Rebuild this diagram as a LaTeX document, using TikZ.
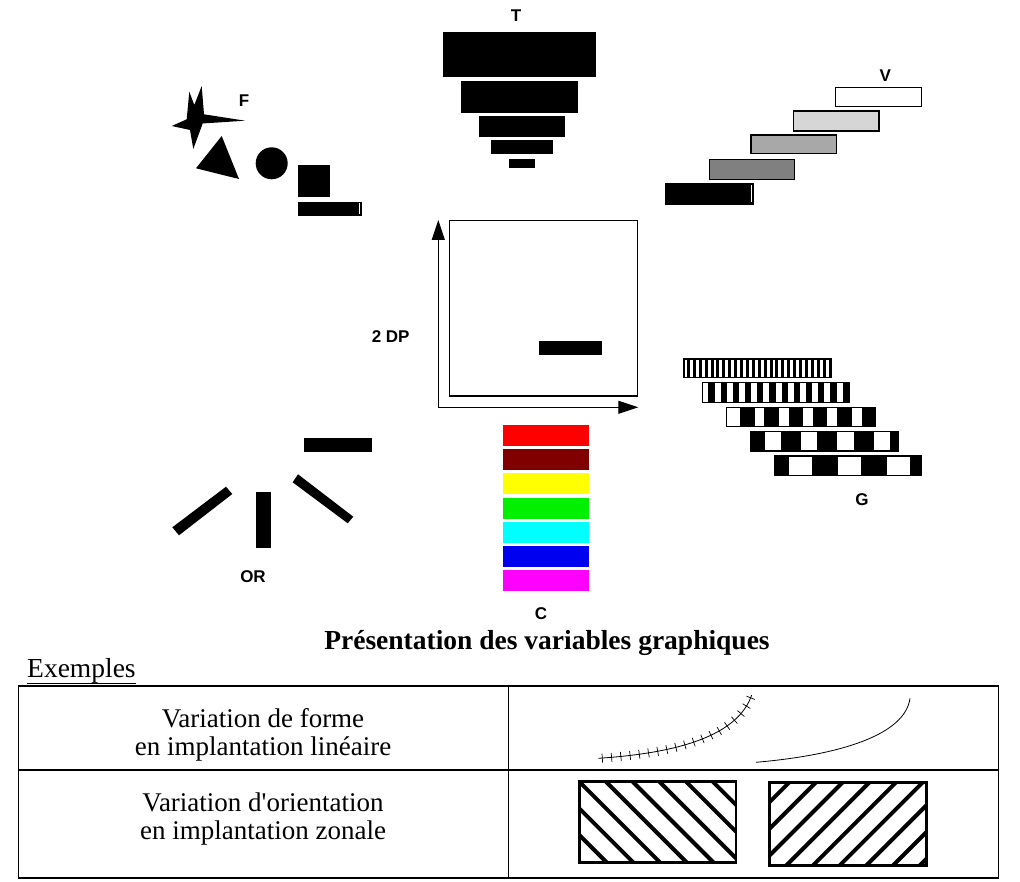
\documentclass[tikz,border=0pt]{standalone}
\usepackage{fontspec}
\setmainfont{Liberation Serif}
\newfontfamily\rawserif{Liberation Serif}
\newfontfamily\labfont{Liberation Sans}
\usetikzlibrary{arrows.meta,decorations.markings}
\definecolor{cred}{HTML}{FF0000}
\definecolor{cmaroon}{HTML}{800000}
\definecolor{cyellow}{HTML}{FFFF00}
\definecolor{cgreen}{HTML}{00F000}
\definecolor{ccyan}{HTML}{00FFFF}
\definecolor{cblue}{HTML}{0000F0}
\definecolor{cmagenta}{HTML}{FF00FF}
\definecolor{gA}{HTML}{808080}
\definecolor{gB}{HTML}{A8A8A8}
\definecolor{gC}{HTML}{D6D6D6}
\begin{document}
\begin{tikzpicture}[x=1pt,y=-1pt,
  lbl/.style={font=\labfont\bfseries\fontsize{17}{17}\selectfont, inner sep=0pt},
  blk/.style={fill=black, draw=none},
  vbar/.style={draw=black, line width=1.2pt},
  gbar/.style={draw=black, line width=1.3pt},
  axis/.style={line width=1.3pt, -{Triangle[length=20pt,width=13pt]}},
  frame/.style={draw=black, line width=1.1pt},
  tab/.style={line width=1.6pt},
  tabtxt/.style={font=\rawserif\fontsize{27}{28}\selectfont, inner sep=0pt, anchor=base},
  hatch/.style={line width=4pt},
  hbox/.style={line width=2.8pt}
]
\useasboundingbox (0,0) rectangle (1020,882);
\fill[white] (0,0) rectangle (1020,882);

% ---------- T ----------
\node[lbl] (T) at (516,16) {T};
\fill[blk] (443.3,32.3) rectangle (595.7,77.3);
\fill[blk] (461,81) rectangle (577.7,113.3);
\fill[blk] (479,116) rectangle (565.3,137.3);
\fill[blk] (491.3,140) rectangle (553.3,154);
\fill[blk] (509,159.3) rectangle (535.3,167.7);

% ---------- F ----------
\node[lbl] (F) at (244,100.7) {F};
\fill[blk] (171.7,126) -- (186.7,119.3) -- (189.3,91.7) -- (194.3,105) -- (201.7,86)
  -- (204,114.3) -- (245,120.7) -- (202.7,123.5) -- (193.3,149) -- (190,130) -- cycle;
\fill[blk] (221.7,136) -- (196,168.3) -- (239,179) -- cycle;
\fill[blk] (271.7,163.3) circle (16);
\fill[blk] (298,165.3) rectangle (330,197.3);
\fill[blk] (298,201.7) rectangle (361.7,215.7);
\draw[white, line width=0.6pt] (359.6,203) -- (359.6,214.5);

% ---------- V ----------
\node[lbl] (V) at (885.3,76) {V};
\filldraw[vbar, fill=black] (666,183.3) rectangle (753.3,204);
\draw[white, line width=0.6pt] (751.5,185) -- (751.5,202.5);
\filldraw[vbar, fill=gA] (709.3,159.3) rectangle (794.3,179.3);
\filldraw[vbar, fill=gB] (751,135) rectangle (836.7,153.3);
\filldraw[vbar, fill=gC] (793.3,111) rectangle (879,131);
\filldraw[vbar, fill=white] (835.3,87.3) rectangle (921.3,106.7);

% ---------- centre ----------
\node[lbl] (DP) at (390.7,336.7) {2 DP};
\draw[frame] (449.3,220.7) rectangle (637.3,396);
\fill[blk] (539.3,341) rectangle (602,355);
\coordinate (O) at (438.3,407.3);
\coordinate (Ytip) at (438.3,220);
\coordinate (Xtip) at (638.3,407.3);
\draw[axis] (O) -- (Ytip);
\draw[axis] (O) -- (Xtip);

% ---------- G ----------
\node[lbl] (G) at (862,500) {G};
\foreach \xa/\xb/\ya/\yb/\st/\p/\w in {
  684/831.7/359/377.3/686.95/5.9/2.95,
  702.3/849/382.7/402.3/708.4/12.2/6.1,
  726.7/875/407.3/426.7/740/24.3/14.5,
  750.7/898.7/431.7/451/744.7/36.3/20,
  775/921.7/456/475.7/762.7/49/26}{
  \begin{scope}
    \clip (\xa,\ya) rectangle (\xb,\yb);
    \fill[white] (\xa,\ya) rectangle (\xb,\yb);
    \foreach \k in {0,...,30}{
      \fill[black] ({\st+\k*\p},\ya) rectangle ({\st+\k*\p+\w},\yb);
    }
  \end{scope}
  \draw[gbar] (\xa,\ya) rectangle (\xb,\yb);
}

% ---------- OR ----------
\node[lbl] (OR) at (253,577) {OR};
\fill[blk] (304,437.7) rectangle (372.3,451.7);
\fill[blk] (256,491.7) rectangle (270.7,548.3);
\fill[blk] (172.3,527.3) -- (179,535.3) -- (232.3,494) -- (226,486.7) -- cycle;
\fill[blk] (292.7,482.3) -- (298,474.3) -- (353.3,516.7) -- (347.7,523.3) -- cycle;

% ---------- C ----------
\node[lbl] (C) at (541,614) {C};
\foreach \c [count=\i from 0] in {cred,cmaroon,cyellow,cgreen,ccyan,cblue,cmagenta}{
  \fill[\c] (503.3,{425+\i*24.2}) rectangle (589.3,{446+\i*24.2});
}

% ---------- title ----------
\node[font=\bfseries\fontsize{27.5}{28}\selectfont, inner sep=0pt, anchor=base] (title) at (547,649) {Présentation des variables graphiques};
\node[font=\fontsize{27.5}{28}\selectfont, inner sep=0pt, anchor=base west] (ex) at (27,677) {Exemples};
\draw[line width=1.2pt] (ex.base west) ++(0,6.5) coordinate (ul1) -- (ex.base east |- ul1);

% ---------- table ----------
\draw[tab] (18.3,685.7) rectangle (998.3,877.7);
\draw[tab] (18.3,770) -- (998.3,770);
\draw[tab] (508.3,685.7) -- (508.3,877.7);

\node[tabtxt] (r1a) at (263,727) {Variation de forme};
\node[tabtxt] (r1b) at (263,755) {en implantation linéaire};
\node[tabtxt] (r2a) at (263,811) {Variation d'orientation};
\node[tabtxt] (r2b) at (263,839) {en implantation zonale};

% ticked curve
\coordinate (c1s) at (598.3,758.3);
\coordinate (c1e) at (751.7,695);
\draw[line width=0.8pt, postaction={decorate},
  decoration={markings, mark=between positions 4pt and 1 step 9.3pt with {\draw[line width=0.7pt] (0,-4.5) -- (0,4.5);}}]
  (c1s) .. controls (680,753) and (738,735) .. (c1e);
% plain curve
\coordinate (c2s) at (756,762.3);
\coordinate (c2e) at (910,698.3);
\draw[line width=0.8pt] (c2s) .. controls (840,755) and (905,735) .. (c2e);

% hatched rectangle A
\begin{scope}
  \clip (579.3,781.7) rectangle (736,862.7);
  \foreach \k in {-4,...,7}{
    \draw[hatch] ({579.3+\k*26.7},781.7) -- ++(90,90);
  }
\end{scope}
\draw[hbox] (579.3,781.7) rectangle (736,862.7);

% hatched rectangle B
\begin{scope}
  \clip (769.3,782.3) rectangle (926.7,865.7);
  \foreach \k in {-1,...,10}{
    \draw[hatch] ({789.3+\k*26.7},782.3) -- ++(-90,90);
  }
\end{scope}
\draw[hbox] (769.3,782.3) rectangle (926.7,865.7);
\end{tikzpicture}
\end{document}
